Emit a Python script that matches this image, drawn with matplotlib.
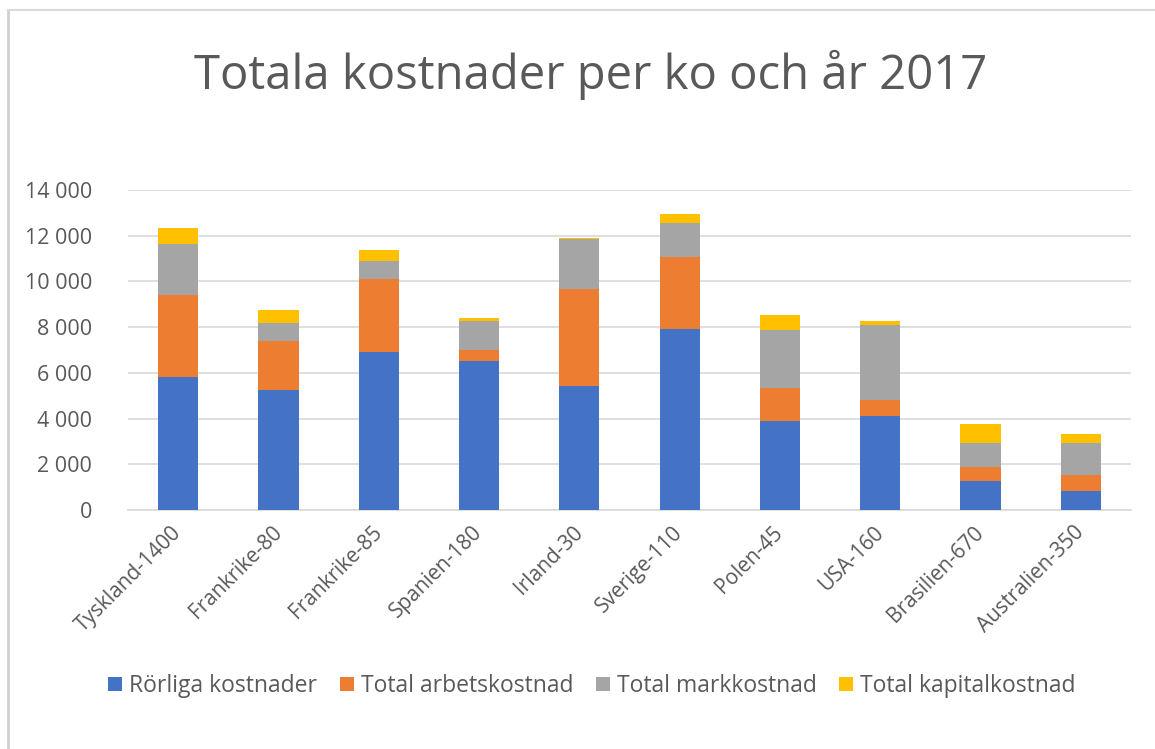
import matplotlib
matplotlib.use("Agg")
import matplotlib.pyplot as plt
from matplotlib.lines import Line2D
import numpy as np

plt.rcParams['font.family'] = ['Open Sans', 'DejaVu Sans']

categories = ["Tyskland-1400", "Frankrike-80", "Frankrike-85", "Spanien-180", "Irland-30",
              "Sverige-110", "Polen-45", "USA-160", "Brasilien-670", "Australien-350"]
rorliga = [5810, 5230, 6900, 6500, 5420, 7910, 3880, 4120, 1280, 850]
arbete = [3610, 2170, 3190, 520, 4260, 3180, 1460, 710, 590, 700]
mark = [2200, 790, 790, 1270, 2190, 1480, 2540, 3270, 1060, 1370]
kapital = [730, 540, 480, 90, 40, 360, 630, 160, 840, 410]
series_names = ["Rörliga kostnader", "Total arbetskostnad", "Total markkostnad", "Total kapitalkostnad"]
colors = ["#4472C4", "#ED7D31", "#A5A5A5", "#FFC000"]
yticks = [0, 2000, 4000, 6000, 8000, 10000, 12000, 14000]

W, H = 1155, 749
fig = plt.figure(figsize=(W / 100, H / 100), dpi=100)
fig.patch.set_facecolor("white")

# chart border (left and top edges visible)
fig.add_artist(Line2D([8 / W, 8 / W], [0, 1 - 10 / H], transform=fig.transFigure,
                      color="#D0D0D0", linewidth=2))
fig.add_artist(Line2D([8 / W, 1], [1 - 10 / H, 1 - 10 / H], transform=fig.transFigure,
                      color="#D9D9D9", linewidth=1.5))

ax = fig.add_axes([128 / W, 1 - 510 / H, (1131 - 128) / W, (510 - 190) / H])
x = np.arange(len(categories))
bottom = np.zeros(len(categories))
for name, vals, c in zip(series_names, [rorliga, arbete, mark, kapital], colors):
    ax.bar(x, vals, bottom=bottom, width=0.4, color=c, label=name, zorder=3)
    bottom += np.array(vals)

ax.set_xlim(-0.5, len(categories) - 0.5)
ax.set_ylim(0, 14000)
ax.set_yticks(yticks)
ax.set_yticklabels([f"{v:,}".replace(",", " ") for v in yticks])
ax.yaxis.grid(True, color="#D9D9D9", linewidth=1.2, zorder=0)
ax.set_axisbelow(True)
for s in ["top", "right", "left"]:
    ax.spines[s].set_visible(False)
ax.spines["bottom"].set_color("#D9D9D9")
ax.spines["bottom"].set_linewidth(1.2)
ax.tick_params(axis="y", length=0, labelsize=15.5, colors="#595959", pad=26)
ax.tick_params(axis="x", length=0, labelsize=15, colors="#595959", pad=14)
ax.set_xticks(x)
ax.set_xticklabels(categories, rotation=45, ha="right", va="center", rotation_mode="anchor")

fig.text(591 / W, 1 - 75 / H, "Totala kostnader per ko och år 2017", ha="center", va="center",
         fontsize=34, color="#595959")

handles, labels = ax.get_legend_handles_labels()
fig.legend(handles, labels, loc="center", bbox_to_anchor=(592 / W, 1 - 686 / H), ncol=4,
           frameon=False, fontsize=16.5, labelcolor="#595959", handlelength=0.6, handleheight=0.6,
           handletextpad=0.3, columnspacing=1.0)

fig.savefig("out.png", dpi=100, facecolor="white")
